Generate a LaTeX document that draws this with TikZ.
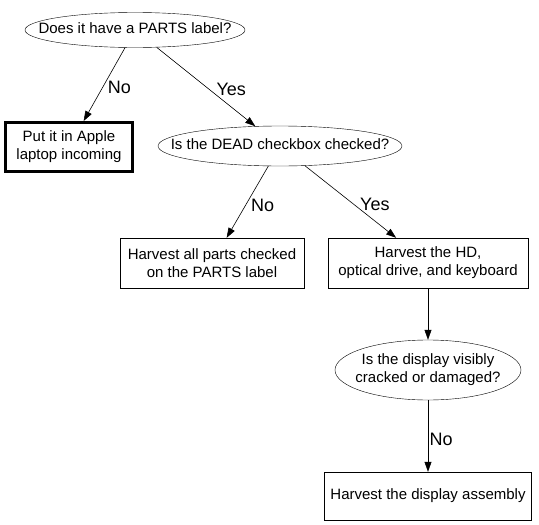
\documentclass[tikz,border=0pt]{standalone}
\usepackage{fontspec}
\setmainfont{Liberation Sans}
\usetikzlibrary{arrows.meta,shapes.geometric}
\newcommand{\qbox}[1]{\makebox[0pt]{\begin{tabular}{@{}c@{}}#1\end{tabular}}}
\tikzset{
  question/.style={draw,ellipse,inner sep=0pt,font=\fontsize{15}{18}\selectfont},
  task/.style={draw,rectangle,inner sep=0pt,align=center,font=\fontsize{15}{18}\selectfont},
}

\begin{document}
\begin{tikzpicture}[x=1pt,y=-1pt]
    \useasboundingbox (0,0) rectangle (539,525);
    \node[question,minimum width=220pt,minimum height=35pt] (parts) at (135,30) {\qbox{Does it have a PARTS label?}};
    \node[task,line width=3pt,minimum width=127pt,minimum height=49pt] (incoming) at (69,147) {Put it in Apple\\laptop incoming};
    \node[question,minimum width=244pt,minimum height=40pt] (dead) at (280,146) {\qbox{Is the DEAD checkbox checked?}};
    \node[task,minimum width=184pt,minimum height=50pt] (allparts) at (212,263) {Harvest all parts checked\\on the PARTS label};
    \node[task,minimum width=200pt,minimum height=50pt] (hd) at (428,263) {Harvest the HD,\\optical drive, and keyboard};
    \node[question,minimum width=186pt,minimum height=60pt] (display) at (428,370) {\qbox{Is the display visibly\\cracked or damaged?}};
    \node[task,minimum width=207pt,minimum height=48pt] (assembly) at (428,496) {Harvest the display assembly};

    \path[-{Triangle[length=10pt,width=7pt]},black,line width=0.6pt,every node/.style={font=\fontsize{18}{21}\selectfont,yshift=-3pt}]
    (parts) edge node [midway,right=0pt] {No} (incoming)
    (parts) edge node [midway,right=7pt] {Yes} (dead)
    (dead) edge node [midway,right=0pt] {No} (allparts)
    (dead) edge node [midway,right=6pt] {Yes} (hd)
    (hd) edge (display)
    (display) edge node [midway,right=-2pt] {No} (assembly)
    ;
  \end{tikzpicture}
\end{document}
